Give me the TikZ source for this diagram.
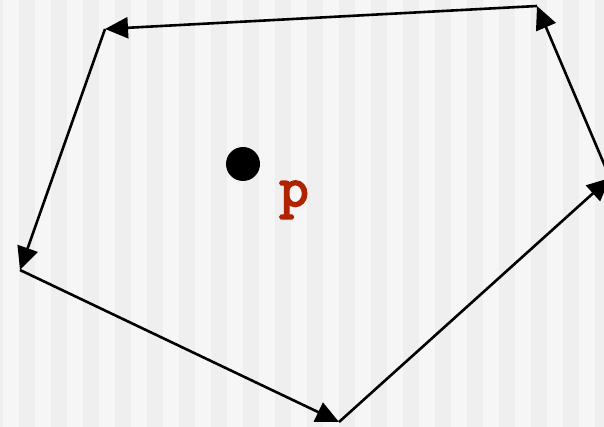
\documentclass[tikz,border=0pt]{standalone}
\usepackage{fontspec}
\newfontfamily\pmono[FakeBold=3.5]{Latin Modern Mono}
\usetikzlibrary{arrows.meta}
\definecolor{stripeL}{HTML}{F6F6F6}
\definecolor{stripeD}{HTML}{EFEFEF}
\definecolor{pred}{HTML}{B02200}
\begin{document}
\begin{tikzpicture}[x=1pt,y=-1pt,
  edge/.style={line width=2.6pt,-{Triangle[length=23pt,width=21pt]}},
  dot/.style={circle,fill=black,inner sep=0pt,minimum size=34pt},
  lbl/.style={text=pred,font=\pmono\fontsize{57}{57}\selectfont,inner sep=0pt}]
\useasboundingbox (0,0) rectangle (604,427);
\fill[stripeL] (0,0) rectangle (604,427);
\foreach \i in {0,...,19} {
  \fill[stripeD] ({-13+32*\i},0) rectangle ({3+32*\i},427);
}
\coordinate (A) at (105,29);
\coordinate (B) at (537,6);
\coordinate (C) at (610,178);
\coordinate (D) at (339,422);
\coordinate (E) at (20,270);
\node[dot] (pt) at (243,164) {};
\node[lbl,anchor=base] (p) at (294,206) {p};
\draw[edge] (A) -- (E);
\draw[edge] (E) -- (D);
\draw[edge] (D) -- (C);
\draw[edge] (C) -- (B);
\draw[edge] (B) -- (A);
\end{tikzpicture}
\end{document}
